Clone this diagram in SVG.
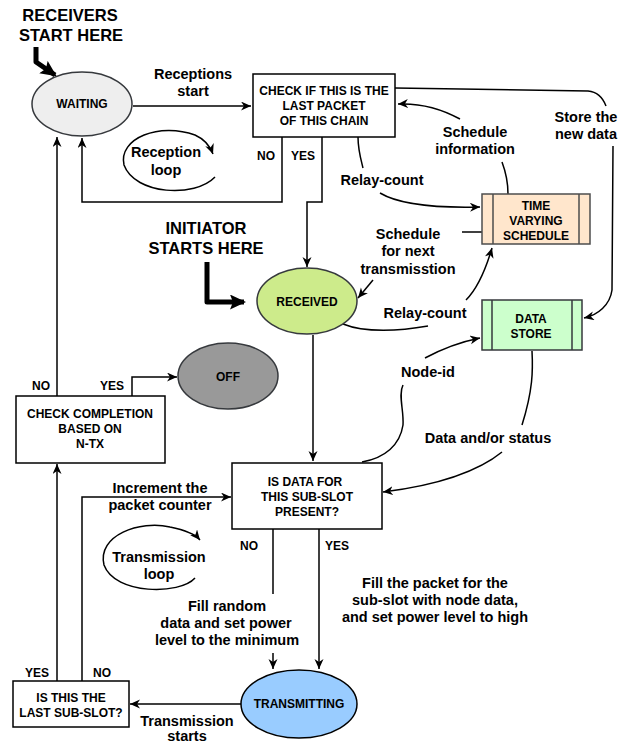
<svg xmlns="http://www.w3.org/2000/svg" width="625" height="745" viewBox="0 0 625 745">
<style>
.t{font-family:"Liberation Sans",Arial,sans-serif;font-weight:bold;fill:#000;text-anchor:middle}
.n{font-size:12px}
.l{font-size:14.5px}
.b{font-size:16.5px}
.c{fill:none;stroke:#000;stroke-width:1.5}
.k{fill:none;stroke:#000;stroke-width:5;stroke-linejoin:round}
</style>
<defs>
<marker id="a" markerUnits="userSpaceOnUse" markerWidth="12" markerHeight="10" refX="10" refY="4.5" orient="auto">
<path d="M0,0 L10,4.5 L0,9 L3,4.5 z" fill="#000"/>
</marker>
<marker id="ab" markerUnits="userSpaceOnUse" markerWidth="18" markerHeight="16" refX="14" refY="7.5" orient="auto">
<path d="M0,0 L16,7.5 L0,15 L3,7.5 z" fill="#000"/>
</marker>
</defs>
<rect width="625" height="745" fill="#fff"/>

<g id="connectors">
<path class="c" d="M133,106 L251,106" marker-end="url(#a)"/>
<path class="c" d="M282,137 L282,202 L82,202 L82,138" marker-end="url(#a)"/>
<path class="c" d="M322,137 L322,202 L307,202 L307,267" marker-end="url(#a)"/>
<path class="c" d="M395,88 L588,91 C598,92 603,98 606,106"/>
<path class="c" d="M613,146 L612,290 C610,305 598,315 584,318" marker-end="url(#a)"/>
<path class="c" d="M508,194 C508,180 505,170 502,162"/>
<path class="c" d="M460,119 C440,108 420,103 398,104" marker-end="url(#a)"/>
<path class="c" d="M358,137 C358,150 361,160 363,168"/>
<path class="c" d="M380,193 C400,205 440,208 480,207" marker-end="url(#a)"/>
<path class="c" d="M462,232 L482,232"/>
<path class="c" d="M373,280 L358,298" marker-end="url(#a)"/>
<path class="c" d="M343,324 C365,333 400,331 428,326"/>
<path class="c" d="M466,300 C478,288 487,265 492,248" marker-end="url(#a)"/>
<path class="c" d="M425,358 C440,350 460,342 480,338" marker-end="url(#a)"/>
<path class="c" d="M403,385 C398,395 404,410 403,425 C400,445 385,458 362,462"/>
<path class="c" d="M532,351 C533,370 533,390 522,425"/>
<path class="c" d="M502,452 C480,470 440,485 383,492" marker-end="url(#a)"/>
<path class="c" d="M313,335 L313,461" marker-end="url(#a)"/>
<path class="c" d="M57,396 L57,137" marker-end="url(#a)"/>
<path class="c" d="M132,396 L132,377 L177,377" marker-end="url(#a)"/>
<path class="c" d="M57,681 L57,464" marker-end="url(#a)"/>
<path class="c" d="M82,681 L82,497 L231,497" marker-end="url(#a)"/>
<path class="c" d="M273,529 L273,594"/>
<path class="c" d="M273,653 L273,669" marker-end="url(#a)"/>
<path class="c" d="M319,529 L319,669" marker-end="url(#a)"/>
<path class="c" d="M241,704 L130,704" marker-end="url(#a)"/>
<path class="c" d="M215,177 C195,198 135,195 124,165 C118,138 160,122 195,135 C204,139 210,146 213,154" marker-end="url(#a)"/>
<path class="c" d="M195,578 C180,595 115,595 104,565 C97,535 140,520 170,527 C185,530 195,534 200,540" marker-end="url(#a)"/>
<path class="k" d="M36,47 L36,62 L55,75" marker-end="url(#ab)"/>
<path class="k" d="M207,262 L207,302 L244,302" marker-end="url(#ab)"/>
</g>

<g id="labels">
<text class="t b" x="70" y="21">RECEIVERS</text>
<text class="t b" x="71" y="41">START HERE</text>
<text class="t b" x="206" y="234">INITIATOR</text>
<text class="t b" x="206" y="254">STARTS HERE</text>
<text class="t l" x="193" y="79">Receptions</text>
<text class="t l" x="193" y="96">start</text>
<text class="t l" x="166" y="157">Reception</text>
<text class="t l" x="166" y="175">loop</text>
<text class="t n" x="266" y="160">NO</text>
<text class="t n" x="303" y="160">YES</text>
<text class="t l" x="382" y="185">Relay-count</text>
<text class="t l" x="475" y="137">Schedule</text>
<text class="t l" x="475" y="154">information</text>
<text class="t l" x="586" y="122">Store the</text>
<text class="t l" x="586" y="139">new data</text>
<text class="t l" x="408" y="239">Schedule</text>
<text class="t l" x="408" y="256">for next</text>
<text class="t l" x="408" y="274">transmisstion</text>
<text class="t l" x="425" y="318">Relay-count</text>
<text class="t l" x="428" y="377">Node-id</text>
<text class="t l" x="488" y="443">Data and/or status</text>
<text class="t n" x="41" y="390">NO</text>
<text class="t n" x="112" y="390">YES</text>
<text class="t l" x="160" y="493">Increment the</text>
<text class="t l" x="160" y="510">packet counter</text>
<text class="t l" x="159" y="562">Transmission</text>
<text class="t l" x="159" y="579">loop</text>
<text class="t n" x="249" y="550">NO</text>
<text class="t n" x="337" y="550">YES</text>
<text class="t l" x="227" y="611">Fill random</text>
<text class="t l" x="226" y="628">data and set power</text>
<text class="t l" x="227" y="645">level to the minimum</text>
<text class="t l" x="435" y="588">Fill the packet for the</text>
<text class="t l" x="435" y="605">sub-slot with node data,</text>
<text class="t l" x="435" y="622">and set power level to high</text>
<text class="t n" x="37" y="677">YES</text>
<text class="t n" x="102" y="677">NO</text>
<text class="t l" x="187" y="726">Transmission</text>
<text class="t l" x="187" y="741">starts</text>
</g>

<g id="waiting">
<ellipse cx="82" cy="104" rx="50" ry="32" fill="#eeeeee" stroke="#36393d" stroke-width="1.5"/>
<text class="t n" x="82" y="108">WAITING</text>
</g>
<g id="check-last">
<rect x="253" y="74" width="142" height="63" fill="#fff" stroke="#000" stroke-width="1.5"/>
<text class="t n" x="324" y="95">CHECK IF THIS IS THE</text>
<text class="t n" x="324" y="110">LAST PACKET</text>
<text class="t n" x="324" y="125">OF THIS CHAIN</text>
</g>
<g id="schedule">
<rect x="482" y="194" width="108" height="50" fill="#ffe6cc" stroke="#4d4d4d" stroke-width="1.5"/>
<line x1="493" y1="194" x2="493" y2="244" stroke="#4d4d4d" stroke-width="1.5"/>
<line x1="579" y1="194" x2="579" y2="244" stroke="#4d4d4d" stroke-width="1.5"/>
<text class="t n" x="536" y="210">TIME</text>
<text class="t n" x="536" y="225">VARYING</text>
<text class="t n" x="536" y="240">SCHEDULE</text>
</g>
<g id="received">
<ellipse cx="307" cy="301" rx="50" ry="33" fill="#cdeb8b" stroke="#36393d" stroke-width="1.5"/>
<text class="t n" x="307" y="306">RECEIVED</text>
</g>
<g id="datastore">
<rect x="482" y="300" width="100" height="50" fill="#ccffcc" stroke="#36393d" stroke-width="1.5"/>
<line x1="492" y1="300" x2="492" y2="350" stroke="#36393d" stroke-width="1.5"/>
<line x1="572" y1="300" x2="572" y2="350" stroke="#36393d" stroke-width="1.5"/>
<text class="t n" x="531" y="323">DATA</text>
<text class="t n" x="531" y="338">STORE</text>
</g>
<g id="off">
<ellipse cx="228" cy="376" rx="50" ry="33" fill="#999999" stroke="#36393d" stroke-width="1.5"/>
<text class="t n" x="228" y="381">OFF</text>
</g>
<g id="check-completion">
<rect x="16" y="396" width="149" height="67" fill="#fff" stroke="#000" stroke-width="1.5"/>
<text class="t n" x="90" y="418">CHECK COMPLETION</text>
<text class="t n" x="90" y="433">BASED ON</text>
<text class="t n" x="90" y="448">N-TX</text>
</g>
<g id="is-data">
<rect x="232" y="463" width="150" height="66" fill="#fff" stroke="#000" stroke-width="1.5"/>
<text class="t n" x="305" y="486">IS DATA FOR</text>
<text class="t n" x="307" y="501">THIS SUB-SLOT</text>
<text class="t n" x="307" y="516">PRESENT?</text>
</g>
<g id="transmitting">
<ellipse cx="299" cy="704" rx="58" ry="34" fill="#99ccff" stroke="#000" stroke-width="1.5"/>
<text class="t n" x="299" y="708">TRANSMITTING</text>
</g>
<g id="last-subslot">
<rect x="13" y="681" width="116" height="46" fill="#fff" stroke="#000" stroke-width="1.5"/>
<text class="t n" x="71" y="702">IS THIS THE</text>
<text class="t n" x="71" y="717">LAST SUB-SLOT?</text>
</g>
</svg>
